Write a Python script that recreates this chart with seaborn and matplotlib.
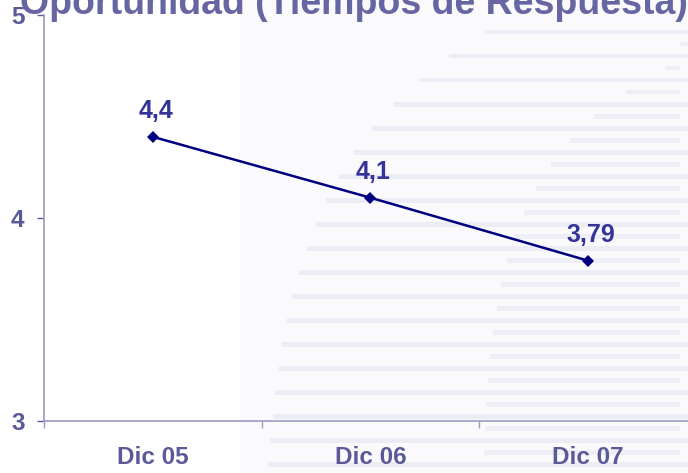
import matplotlib
matplotlib.use("Agg")
import matplotlib.pyplot as plt
from matplotlib.patches import Rectangle
from matplotlib.ticker import FixedLocator
import numpy as np
import pandas as pd
import seaborn as sns

# Data
periodos = ["Dic 05", "Dic 06", "Dic 07"]
tiempos = [4.4, 4.1, 3.79]
etiquetas = ["4,4", "4,1", "3,79"]
titulo = "Oportunidad (Tiempos de Respuesta)"

sns.set_theme(style="white")
plt.rcParams["font.family"] = ["Liberation Sans", "DejaVu Sans"]

W, H = 688, 473
fig = plt.figure(figsize=(W / 100, H / 100), dpi=100)
fig.patch.set_facecolor("white")

# Decorative striped backdrop on the right side
bg = fig.add_axes([0, 0, 1, 1], zorder=0)
bg.set_xlim(0, W)
bg.set_ylim(H, 0)
bg.axis("off")
bg.add_patch(Rectangle((240, 0), W - 240, H, color="#fafafd", lw=0))
for i, yy in enumerate(np.arange(32, H, 12)):
    if i % 2 == 0:
        x0 = 258 + 227 * np.exp(-(yy - 32) / 140)
        bg.add_patch(Rectangle((x0, yy - 2), W - x0, 4.5, color="#ececf5",
                               lw=0))
    else:
        x0 = 480 + 185 * np.exp(-(yy - 68) / 100)
        bg.add_patch(Rectangle((x0, yy - 2), 680 - x0, 4.5, color="#eeeef6",
                               lw=0))

ax = fig.add_axes([44 / W, 1 - 421 / H, 1 - 44 / W, (421 - 15) / H], zorder=2)
ax.patch.set_alpha(0)

df = pd.DataFrame({"periodo": periodos, "tiempo": tiempos})
sns.lineplot(data=df, x="periodo", y="tiempo", ax=ax, color="#000080",
             marker="D", markersize=6.5, linewidth=1.8, markeredgewidth=0,
             sort=False)

ax.set_xlim(-0.5, 2.46)
ax.set_ylim(3, 5)
ax.set_xlabel("")
ax.set_ylabel("")

tick_color = "#5a5a98"
spine_color = "#9a9ac2"
ax.set_yticks([3, 4, 5])
ax.set_yticklabels(["3", "4", "5"])
ax.set_xticks(range(len(periodos)))
ax.set_xticklabels(periodos)
ax.xaxis.set_minor_locator(FixedLocator([-0.5, 0.5, 1.5]))
ax.tick_params(axis="x", which="major", length=0, pad=18,
               labelsize=17.5, labelcolor=tick_color)
ax.tick_params(axis="x", which="minor", length=5, width=1,
               color=spine_color, direction="out", bottom=True)
ax.tick_params(axis="y", length=5, width=1, color=tick_color, pad=9,
               labelsize=17.5, labelcolor=tick_color, direction="out", left=True)
for lab in ax.get_xticklabels() + ax.get_yticklabels():
    lab.set_fontweight("bold")

for s in ["top", "right"]:
    ax.spines[s].set_visible(False)
for s in ["left", "bottom"]:
    ax.spines[s].set_color(spine_color)
    ax.spines[s].set_linewidth(1.2)

for i, (v, t) in enumerate(zip(tiempos, etiquetas)):
    ax.annotate(t, (i, v), xytext=(2, 10), textcoords="offset points",
                ha="center", va="bottom", fontsize=18, fontweight="bold",
                color="#333399")

fig.text(354 / W, 1 - 14 / H, titulo, ha="center", va="baseline",
         fontsize=27, fontweight="bold", color="#6666a3", zorder=3)

fig.savefig("out.png", dpi=100)
